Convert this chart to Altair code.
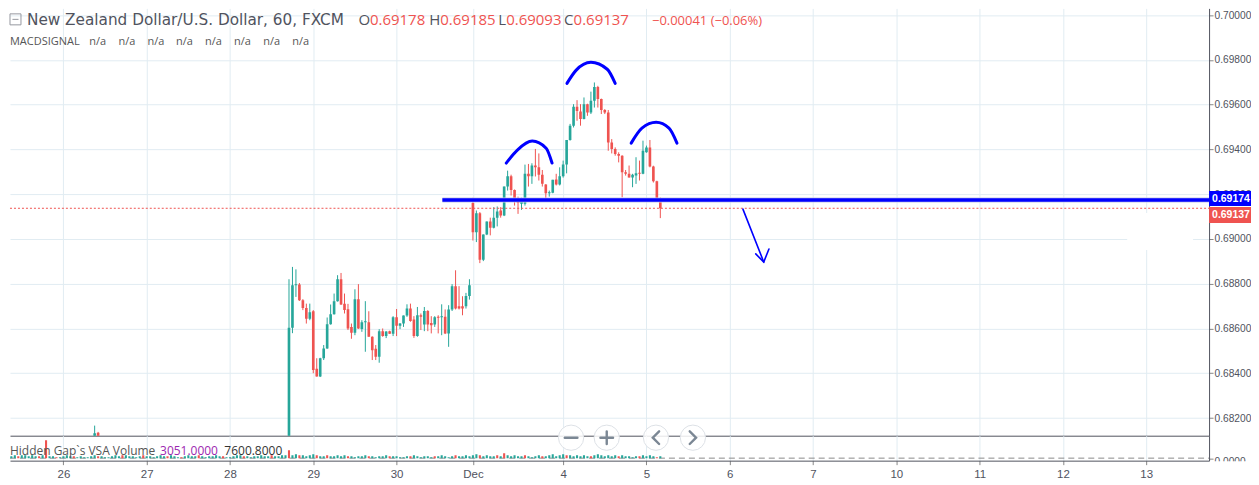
import altair as alt
import pandas as pd

# ---------------- data ----------------
# x = hourly bar index ("slot"), 0 = Nov 26 00:00 ; y = price
day_slots = [0, 24, 48, 72, 96, 118, 144, 168, 192, 216, 240, 264, 288, 312]
day_labels = ["26", "27", "28", "29", "30", "Dec", "4", "5", "6", "7", "10", "11", "12", "13"]
price_ticks = [0.682, 0.684, 0.686, 0.688, 0.690, 0.692, 0.694, 0.696, 0.698, 0.700]

candle_slot = [9, 10] + list(range(65, 173))
candle_open = [
    0.68100, 0.68134,
    0.68103, 0.68603, 0.68793, 0.68796, 0.68726, 0.68692, 0.68643, 0.68677, 0.68420, 0.68385,   # 65-74
    0.68467, 0.68511, 0.68619, 0.68664, 0.68722, 0.68820, 0.68710, 0.68686, 0.68607, 0.68581,   # 75-84
    0.68731, 0.68598, 0.68628, 0.68628, 0.68563, 0.68509, 0.68474, 0.68588, 0.68566, 0.68588,   # 85-94
    0.68576, 0.68650, 0.68612, 0.68622, 0.68658, 0.68689, 0.68640, 0.68566, 0.68659, 0.68618,   # 95-104
    0.68678, 0.68625, 0.68618, 0.68650, 0.68650, 0.68652, 0.68578, 0.68685, 0.68789, 0.68699,   # 105-114
    0.68699, 0.68699, 0.68745, 0.69160, 0.69030, 0.69115, 0.68907, 0.69020, 0.69078, 0.69050,   # 115-124
    0.69095, 0.69127, 0.69105, 0.69234, 0.69280, 0.69219, 0.69179, 0.69157, 0.69157, 0.69291,   # 125-134
    0.69280, 0.69328, 0.69320, 0.69287, 0.69243, 0.69204, 0.69206, 0.69265, 0.69243, 0.69280,   # 135-144
    0.69332, 0.69442, 0.69506, 0.69590, 0.69569, 0.69536, 0.69602, 0.69565, 0.69617, 0.69679,   # 145-154
    0.69625, 0.69576, 0.69565, 0.69431, 0.69402, 0.69379, 0.69372, 0.69298, 0.69291, 0.69275,   # 155-164
    0.69283, 0.69293, 0.69291, 0.69387, 0.69409, 0.69324, 0.69258, 0.69178,                     # 165-172
]
candle_high = [
    0.68166, 0.68138,
    0.68820, 0.68875, 0.68864, 0.68803, 0.68731, 0.68711, 0.68711, 0.68682, 0.68467, 0.68469,
    0.68526, 0.68649, 0.68707, 0.68756, 0.68838, 0.68848, 0.68756, 0.68710, 0.68622, 0.68775,
    0.68798, 0.68637, 0.68722, 0.68677, 0.68565, 0.68526, 0.68597, 0.68600, 0.68588, 0.68590,
    0.68655, 0.68687, 0.68624, 0.68658, 0.68708, 0.68711, 0.68655, 0.68696, 0.68667, 0.68696,
    0.68682, 0.68655, 0.68655, 0.68659, 0.68708, 0.68685, 0.68704, 0.68798, 0.68860, 0.68789,
    0.68744, 0.68759, 0.68820, 0.69184, 0.69127, 0.69120, 0.69020, 0.69078, 0.69095, 0.69142,
    0.69145, 0.69142, 0.69234, 0.69305, 0.69287, 0.69221, 0.69189, 0.69184, 0.69332, 0.69335,
    0.69338, 0.69402, 0.69382, 0.69308, 0.69245, 0.69216, 0.69264, 0.69291, 0.69320, 0.69350,
    0.69442, 0.69514, 0.69602, 0.69620, 0.69602, 0.69632, 0.69604, 0.69658, 0.69699, 0.69684,
    0.69627, 0.69580, 0.69576, 0.69446, 0.69409, 0.69387, 0.69374, 0.69308, 0.69328, 0.69291,
    0.69365, 0.69350, 0.69439, 0.69417, 0.69442, 0.69327, 0.69260, 0.69185,
]
candle_low = [
    0.68050, 0.68050,
    0.68094, 0.68579, 0.68741, 0.68723, 0.68682, 0.68622, 0.68637, 0.68400, 0.68385, 0.68383,
    0.68459, 0.68509, 0.68617, 0.68662, 0.68720, 0.68705, 0.68667, 0.68593, 0.68554, 0.68570,
    0.68598, 0.68585, 0.68496, 0.68563, 0.68459, 0.68459, 0.68447, 0.68563, 0.68557, 0.68576,
    0.68566, 0.68566, 0.68597, 0.68607, 0.68652, 0.68630, 0.68558, 0.68563, 0.68593, 0.68588,
    0.68588, 0.68578, 0.68607, 0.68578, 0.68570, 0.68575, 0.68518, 0.68678, 0.68685, 0.68685,
    0.68659, 0.68689, 0.68729, 0.68993, 0.68986, 0.68892, 0.68901, 0.69017, 0.69016, 0.69047,
    0.69056, 0.69095, 0.69102, 0.69216, 0.69194, 0.69149, 0.69112, 0.69130, 0.69149, 0.69234,
    0.69246, 0.69279, 0.69261, 0.69234, 0.69175, 0.69189, 0.69204, 0.69239, 0.69239, 0.69274,
    0.69293, 0.69439, 0.69498, 0.69528, 0.69506, 0.69534, 0.69550, 0.69558, 0.69587, 0.69587,
    0.69558, 0.69558, 0.69394, 0.69382, 0.69372, 0.69342, 0.69186, 0.69283, 0.69274, 0.69231,
    0.69246, 0.69261, 0.69289, 0.69385, 0.69320, 0.69252, 0.69167, 0.69093,
]
candle_close = [
    0.68132, 0.68100,
    0.68603, 0.68793, 0.68796, 0.68726, 0.68692, 0.68643, 0.68673, 0.68414, 0.68385, 0.68467,
    0.68511, 0.68619, 0.68664, 0.68722, 0.68820, 0.68707, 0.68682, 0.68600, 0.68581, 0.68731,
    0.68600, 0.68628, 0.68629, 0.68563, 0.68503, 0.68474, 0.68588, 0.68566, 0.68586, 0.68576,
    0.68650, 0.68612, 0.68622, 0.68658, 0.68689, 0.68633, 0.68566, 0.68659, 0.68652, 0.68678,
    0.68618, 0.68614, 0.68650, 0.68648, 0.68655, 0.68578, 0.68685, 0.68789, 0.68689, 0.68689,
    0.68689, 0.68745, 0.68793, 0.69030, 0.69115, 0.68907, 0.69020, 0.69078, 0.69050, 0.69095,
    0.69123, 0.69105, 0.69234, 0.69280, 0.69219, 0.69175, 0.69160, 0.69175, 0.69291, 0.69280,
    0.69328, 0.69320, 0.69287, 0.69246, 0.69204, 0.69206, 0.69264, 0.69243, 0.69280, 0.69332,
    0.69442, 0.69506, 0.69590, 0.69572, 0.69536, 0.69602, 0.69565, 0.69617, 0.69679, 0.69625,
    0.69576, 0.69565, 0.69431, 0.69402, 0.69379, 0.69372, 0.69298, 0.69291, 0.69275, 0.69287,
    0.69293, 0.69291, 0.69394, 0.69409, 0.69324, 0.69258, 0.69178, 0.69137,
]

level_price = [0.69174]
level_start = [109.2]
last_price = [0.69137]

# hand-drawn head & shoulders arcs (slot, price)
arc_slot = [127.6, 130.8, 135.1, 139.1, 140.8,
            145.1, 147.7, 152.0, 156.7, 159.0,
            163.6, 166.7, 170.8, 174.5, 176.8]
arc_price = [0.69339, 0.69397, 0.69437, 0.69405, 0.69339,
             0.69695, 0.69753, 0.69789, 0.69758, 0.69695,
             0.69428, 0.69495, 0.69521, 0.69495, 0.69428]
arc_id = [0] * 5 + [1] * 5 + [2] * 5

arrow_slot = [195.8, 201.8, 199.5, 201.8, 203.3]
arrow_price = [0.69133, 0.68897, 0.68933, 0.68897, 0.68955]
arrow_id = [0, 0, 1, 1, 1]

# volume histogram (pixel-scale units) slots -15..172
vol_slot = list(range(-15, 173))
vol_height = [
    2, 3, 2, 3, 3, 2, 3, 2, 2, 3,
    18,
    2, 2, 1, 1, 2, 3, 2, 2, 1, 2,
    1, 1, 2, 3, 2, 2, 1, 1, 2, 3,
    2, 3, 3, 2, 2, 1, 2, 3, 2, 2,
    1, 2, 3, 2, 2, 3, 2, 1, 1, 2,
    3, 2, 2, 3, 2, 1, 2, 2, 3, 2,
    2, 1, 1, 2, 3, 3, 2, 2, 1, 2,
    2, 3, 2, 2, 3, 2, 2, 3, 3,
    8,
    3, 4, 3, 3, 2, 3, 4, 3, 2, 2,
    3, 2, 2, 3, 2, 3, 2, 2, 1, 2,
    2, 3, 2, 2, 1, 2, 2, 3, 2, 2,
    2, 1, 1, 2, 2, 3, 2, 1, 2, 2,
    1, 2, 2, 3, 2, 1, 2, 3, 2, 2, 3, 2,
    3, 4, 3, 2, 3, 2, 2, 3, 2,
    5,
    3, 2, 3, 2, 2, 3, 2, 1, 2, 3,
    2, 2, 3, 4, 2, 3, 4, 3, 3, 2,
    3, 2, 3, 2, 2, 3, 4, 3, 2, 3,
    2, 3, 2, 3, 2, 2, 1, 2, 2, 3,
    2, 3, 2, 1, 2,
]
vol_kind = ("bbrbbpbbrb" "k" "bbrbbpbrbb" "bpbbrbbbpb" "brbbpbbrbb" "bbpbrbbbrb"
            "pbbrbbpbbb" "rbbpbbrbbb" "bpbbrbbpb" "k" "bbrbpbbrbb" "rbbpbbrbbp"
            "bbrbbbpbrb" "bpbbrbbbpb" "brbbpbbrbbpb" "bbrbpbbrb" "k" "bbpbbrbbpb"
            "rbbbpbbrbb" "bpbbrbbbpb" "bbrbbpbbrb" "pbbrb")

# ---------------- layout / style ----------------
TEAL, RED, BLUE = "#26a69a", "#ef5350", "#0000ff"
GRID, DARK, TXT = "#e1ecf2", "#50535e", "#50535e"
FONT, AXFONT = "Open Sans", "Liberation Sans"
W, H_MAIN, H_VOL = 1201, 428, 25
X_DOM = [-15.39, 330.12]
Y_DOM = [0.68121, 0.70030]
VOL_DOM = [-2.5, 22.5]

xs = alt.Scale(domain=X_DOM, nice=False, zero=False)
ys = alt.Scale(domain=Y_DOM, nice=False, zero=False)
yv = alt.Scale(domain=VOL_DOM, nice=False, zero=False)

x_axis_main = alt.Axis(values=day_slots, grid=True, labels=False, ticks=False,
                       domain=True, title=None)
y_axis_main = alt.Axis(orient="right", values=price_ticks, format=".5f", grid=True,
                       tickSize=4, labelPadding=1, title=None, labelFontSize=10.2)
label_expr = "[" + ",".join("'%s'" % s for s in day_labels) + "][indexof([" + \
    ",".join(str(v) for v in day_slots) + "], datum.value)]"
x_axis_vol = alt.Axis(values=day_slots, labelExpr=label_expr, grid=True, ticks=True,
                      tickSize=4, labelPadding=4, domain=True, title=None,
                      labelFontSize=11.5, labelOverlap=False, labelFlush=False)
y_axis_vol = alt.Axis(orient="right", values=[0], labelExpr="'0.0000'", grid=False,
                      tickSize=4, labelPadding=1, title=None, labelFontSize=10.2,
                      labelOffset=3)


def one():
    return alt.Chart(pd.DataFrame({"k": [0]}))


def text(t, x, y, size, color, font=FONT, weight="normal", align="left", baseline="alphabetic"):
    return one().mark_text(text=t, font=font, fontSize=size, color=color, fontWeight=weight,
                           align=align, baseline=baseline).encode(x=alt.value(x), y=alt.value(y))


def X(field):
    return alt.X(field, type="quantitative", scale=xs, axis=x_axis_main)


def Y(field):
    return alt.Y(field, type="quantitative", scale=ys, axis=y_axis_main)


# ---------------- main pane ----------------
cdf = pd.DataFrame({"slot": candle_slot, "o": candle_open, "h": candle_high,
                    "l": candle_low, "c": candle_close})
base = alt.Chart(cdf).transform_calculate(
    dir="datum.c >= datum.o ? 'up' : 'down'",
    bb="min(datum.o, datum.c)",
    bt="max(max(datum.o, datum.c), min(datum.o, datum.c) + 0.000045)",
    x0="datum.slot - 0.38",
    x1="datum.slot + 0.38",
)
ccol = alt.Color("dir:N", scale=alt.Scale(domain=["up", "down"], range=[TEAL, RED]), legend=None)

wicks = base.mark_rule(strokeWidth=1, clip=True).encode(x=X("slot"), y=Y("l"), y2="h:Q", color=ccol)
bodies = base.mark_rect(clip=True).encode(x=X("x0"), x2="x1:Q", y=Y("bb"), y2="bt:Q", color=ccol)

white_patch = one().mark_rect(color="white").encode(
    x=alt.value(1119), x2=alt.value(1185), y=alt.value(205), y2=alt.value(242))

last_line = alt.Chart(pd.DataFrame({"p": last_price})).mark_rule(
    color=RED, strokeWidth=1, strokeDash=[2, 2]).encode(
    x=alt.value(0), x2=alt.value(W), y=Y("p"))

ldf = pd.DataFrame({"p": level_price, "s": level_start})
level_halo = alt.Chart(ldf).mark_rule(color="#c3c7e6", strokeWidth=5.2).encode(
    x=X("s"), x2=alt.value(W), y=Y("p"))
level_line = alt.Chart(ldf).mark_rule(color=BLUE, strokeWidth=3.4).encode(
    x=X("s"), x2=alt.value(W), y=Y("p"))

arcs = alt.Chart(pd.DataFrame({"s": arc_slot, "p": arc_price, "g": arc_id})).mark_line(
    color=BLUE, strokeWidth=3, interpolate="monotone", strokeCap="round").encode(
    x=X("s"), y=Y("p"), detail="g:N")
arrow = alt.Chart(pd.DataFrame({"s": arrow_slot, "p": arrow_price, "g": arrow_id})).mark_line(
    color=BLUE, strokeWidth=1.6, strokeCap="round").encode(
    x=X("s"), y=Y("p"), detail="g:N")

icon_box = one().mark_point(shape="square", filled=False, size=121, color="#6a6d78",
                            strokeWidth=1).encode(x=alt.value(5.5), y=alt.value(11))
icon_minus = one().mark_point(shape="M-0.55,0L0.55,0", filled=False, size=121,
                              color="#6a6d78", strokeWidth=1).encode(x=alt.value(5.5), y=alt.value(11))

header = [
    text("New Zealand Dollar/U.S. Dollar, 60, FXCM", 17, 16.3, 15.3, TXT, font="DejaVu Sans"),
    text("O", 349, 16.3, 15, TXT), text("0.69178", 360.5, 16.3, 15, RED),
    text("H", 420, 16.3, 15, TXT), text("0.69185", 431, 16.3, 15, RED),
    text("L", 489, 16.3, 15, TXT), text("0.69093", 497, 16.3, 15, RED),
    text("C", 555, 16.3, 15, TXT), text("0.69137", 564.5, 16.3, 15, RED),
    text("\u22120.00041 (\u22120.06%)", 643, 16.3, 13, RED),
    text("MACDSIGNAL", 0, 36.3, 11, "#555555"),
]
for nx in [79.3, 108.7, 137.7, 166.3, 195.3, 224.3, 253.7, 282.7]:
    header.append(text("n/a", nx, 36.3, 11, "#555555"))

box_blue = one().mark_rect(color=BLUE).encode(
    x=alt.value(1201), x2=alt.value(1243), y=alt.value(183), y2=alt.value(198))
box_red = one().mark_rect(color=RED).encode(
    x=alt.value(1201), x2=alt.value(1243), y=alt.value(199), y2=alt.value(215))
box_t1 = text("0.69174", 1204, 190.8, 10.5, "white", font=AXFONT, weight="bold", baseline="middle")
box_t2 = text("0.69137", 1204, 207.3, 10.5, "white", font=AXFONT, weight="bold", baseline="middle")

main = alt.layer(
    wicks, white_patch, last_line, bodies, level_halo, level_line, arcs, arrow,
    icon_box, icon_minus, *header, box_blue, box_red, box_t1, box_t2,
).properties(width=W, height=H_MAIN)

# ---------------- volume pane ----------------
vdf = pd.DataFrame({"slot": vol_slot, "h": vol_height, "kind": list(vol_kind)[:len(vol_slot)]})
vbars = alt.Chart(vdf).transform_calculate(
    x0="datum.slot - 0.3", x1="datum.slot + 0.3", z="0").mark_rect(clip=True).encode(
    x=alt.X("x0:Q", scale=xs, axis=x_axis_vol),
    x2="x1:Q",
    y=alt.Y("z:Q", scale=yv, axis=y_axis_vol),
    y2="h:Q",
    color=alt.Color("kind:N", scale=alt.Scale(domain=["b", "r", "p", "k"],
                    range=["#3344ee", "#ee3344", "#aa44cc", "#333333"]), legend=None),
)
zero_line = alt.Chart(pd.DataFrame({"v": [0]})).mark_rule(
    color="#8a8a8a", strokeWidth=1, strokeDash=[6, 4]).encode(
    x=alt.value(0), x2=alt.value(W), y=alt.Y("v:Q", scale=yv, axis=y_axis_vol))

vol_texts = [
    text("Hidden Gap`s VSA Volume", 0, 19, 12, "#555555"),
    text("3051.0000", 150.3, 19, 12, "#9c27b0"),
    text("7600.8000", 214.7, 19, 12, "#333333"),
]

buttons = []
for bx, shape in [(562, "M-1,0L1,0"), (597.7, "M-1,0L1,0M0,-1L0,1"),
                  (647, "M0.5,-1L-0.5,0L0.5,1"), (684, "M-0.5,-1L0.5,0L-0.5,1")]:
    buttons.append(one().mark_point(shape="circle", filled=True, size=640, fill="white",
                                    fillOpacity=0.85, stroke="#dde1e6", strokeWidth=1,
                                    clip=False).encode(x=alt.value(bx), y=alt.value(2)))
    buttons.append(one().mark_point(shape=shape, filled=False, size=160, color="#7b8794",
                                    strokeWidth=2.4, strokeCap="round", opacity=1,
                                    clip=False).encode(x=alt.value(bx), y=alt.value(2)))

cover = one().mark_rect(color="white", clip=False).encode(
    x=alt.value(1202), x2=alt.value(1243), y=alt.value(25.5), y2=alt.value(34))

vol = alt.layer(zero_line, vbars, *vol_texts, *buttons, cover).properties(width=W, height=H_VOL)

chart = alt.vconcat(main, vol, spacing=0, bounds="flush").properties(
    padding=0, background="white"
).configure_view(stroke=None).configure_axis(
    labelFont=AXFONT, labelColor=TXT, domainColor=DARK, tickColor="#888888",
    gridColor=GRID, gridWidth=1, domainWidth=1,
)

chart.save("out.html", embed_options={"renderer": "svg", "actions": False})
